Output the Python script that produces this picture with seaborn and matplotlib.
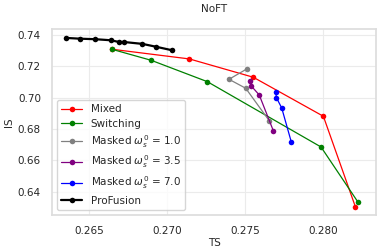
import pandas as pd
import seaborn as sns
import matplotlib.pyplot as plt

# values
mixed_ts = [0.26645, 0.27143, 0.27553, 0.28002, 0.28207]
mixed_is = [0.7309, 0.7247, 0.7130, 0.6881, 0.6304]

switching_ts = [0.26645, 0.26899, 0.27258, 0.27987, 0.28224]
switching_is = [0.7309, 0.7238, 0.7102, 0.6685, 0.6333]

masked1_ts = [0.27511, 0.27397, 0.27504, 0.27656]
masked1_is = [0.7183, 0.7117, 0.7060, 0.6851]

masked35_ts = [0.27534, 0.27540, 0.27591, 0.27681]
masked35_is = [0.7106, 0.7074, 0.7017, 0.6789]

masked7_ts = [0.27697, 0.27701, 0.27735, 0.27797]
masked7_is = [0.7034, 0.7000, 0.6934, 0.6715]

profusion_ts = [0.26354, 0.26444, 0.26538, 0.26641, 0.26692, 0.26724, 0.26842, 0.26928, 0.27034]
profusion_is = [0.7381, 0.7376, 0.7373, 0.7366, 0.7355, 0.7355, 0.7343, 0.7325, 0.7302]

series = [
    ("Mixed", mixed_ts, mixed_is, "red"),
    ("Switching", switching_ts, switching_is, "green"),
    (r"Masked $\omega_s^0$ = 1.0", masked1_ts, masked1_is, "gray"),
    (r"Masked $\omega_s^0$ = 3.5", masked35_ts, masked35_is, "purple"),
    (r"Masked $\omega_s^0$ = 7.0", masked7_ts, masked7_is, "blue"),
    ("ProFusion", profusion_ts, profusion_is, "black"),
]

sns.set_theme(style="whitegrid")
plt.rcParams['font.family'] = ['DejaVu Sans']

fig = plt.figure(figsize=(3.83, 2.5), dpi=100)
ax = fig.add_axes([0.136, 0.14, 0.846, 0.744])

for name, ts, iss, col in series:
    lw = 1.6 if name == "ProFusion" else 0.9
    sns.lineplot(x=ts, y=iss, sort=False, marker="o", color=col, label=name,
                 linewidth=lw, markersize=4, markeredgewidth=0, ax=ax)

ax.set_xlim(0.26263, 0.2834)
ax.set_ylim(0.6251, 0.7438)
ax.set_xticks([0.265, 0.270, 0.275, 0.280])
ax.set_yticks([0.64, 0.66, 0.68, 0.70, 0.72, 0.74])
ax.tick_params(labelsize=7.5, pad=2)
ax.set_xlabel("TS", fontsize=7.5, labelpad=1)
ax.set_ylabel("IS", fontsize=7.5, labelpad=3)
ax.set_title("NoFT", fontsize=7.5, pad=12)
ax.grid(color="#ebebeb", linewidth=0.8)
for s in ax.spines.values():
    s.set_color("#dddddd")
ax.legend(loc="lower left", fontsize=7.5, framealpha=0.8, labelspacing=0.4)

fig.savefig("out.png", dpi=100)
